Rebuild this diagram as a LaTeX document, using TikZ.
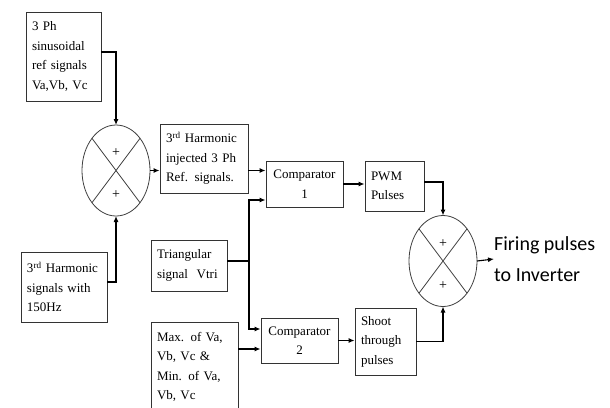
\documentclass[tikz,border=0pt]{standalone}
\usepackage{fontspec}
\setmainfont{Liberation Serif}
\newfontfamily\labelfont{Carlito}
\usetikzlibrary{shapes.geometric,arrows.meta}

\begin{document}
\begin{tikzpicture}[x=1pt,y=-1pt,
  blk/.style={draw=black!80,line width=.9pt,inner xsep=6pt,inner ysep=0pt,
    align=left,font=\fontsize{13}{19.5}\selectfont},
  summer/.style={draw=black!75,line width=.8pt,ellipse,inner sep=0pt,outer sep=0pt,
    minimum width=68pt,minimum height=91pt},
  plus/.style={inner sep=0pt,font=\fontsize{14}{14}\selectfont},
  sig/.style={line width=1.1pt,-{Latex[length=6pt,width=5pt]}},
  wire/.style={line width=1.1pt}]
  \useasboundingbox (0,0) rectangle (610,407);
  % inputs
  \node[blk,text width=63pt,minimum height=89pt] (ref) at (63.5,56.5)
    {3 Ph\\sinusoidal\\ref signals\\Va,Vb, Vc};
  \node[blk,text width=74pt,minimum height=70pt] (harm) at (64,287)
    {3\textsuperscript{rd} Harmonic\\signals with\\150Hz};
  \node[summer] (sumA) at (116,170.5) {};
  \draw[black!75,line width=.8pt] (sumA.north west) -- (sumA.south east)
    (sumA.north east) -- (sumA.south west);
  \node[plus] (plusA1) at ([yshift=18pt]sumA.center) {+};
  \node[plus] (plusA2) at ([yshift=-24pt]sumA.center) {+};
  \draw[sig] ([yshift=4.5pt]ref.east) -| (sumA.north);
  \draw[sig] ([yshift=5pt]harm.east) -| (sumA.south);
  %
  \node[blk,text width=76pt,minimum height=69pt] (inj) at (204,158.5)
    {3\textsuperscript{rd} Harmonic\\injected 3 Ph\\Ref. signals.};
  \node[blk,text width=64pt,minimum height=51pt] (tri) at (189,265.5)
    {Triangular\\signal\ \ Vtri};
  \node[blk,text width=75pt,minimum height=90pt] (mx) at (194.5,367)
    {Max. of Va,\\Vb, Vc \&\\Min. of Va,\\Vb, Vc};
  % comparators
  \node[blk,align=center,text width=65pt,minimum height=46pt] (cmpA) at (304.5,184)
    {Comparator\\1};
  \node[blk,align=center,text width=65pt,minimum height=45pt] (cmpB) at (299.5,340.5)
    {Comparator\\2};
  \node[blk,text width=47pt,minimum height=50pt] (pwm) at (394.5,186)
    {PWM\\Pulses};
  \node[blk,text width=49pt,minimum height=67pt] (shoot) at (385.5,341.5)
    {Shoot\\through\\pulses};
  \coordinate (bus) at (249,0);
  \draw[sig] (sumA.east) -- (sumA.east -| inj.west);
  \draw[sig] (sumA.east -| inj.east) -- (sumA.east -| cmpA.west);
  \draw[wire] ([yshift=4.5pt]tri.east) -- ([yshift=4.5pt]tri.east -| bus);
  \draw[sig] ([yshift=4.5pt]tri.east -| bus) |- ([yshift=-16pt]cmpA.west);
  \draw[sig] ([yshift=4.5pt]tri.east -| bus) |- ([yshift=11.5pt]cmpB.west);
  \draw[sig] ([yshift=-8.5pt]cmpB.west -| mx.east) -- ([yshift=-8.5pt]cmpB.west);
  \draw[sig] (cmpA.east) -- (cmpA.east -| pwm.west);
  \draw[sig] (cmpB.east) -- (cmpB.east -| shoot.west);
  % output summer
  \node[summer] (sumB) at (443,261) {};
  \draw[black!75,line width=.8pt] (sumB.north west) -- (sumB.south east)
    (sumB.north east) -- (sumB.south west);
  \node[plus] (plusB1) at ([yshift=17pt]sumB.center) {+};
  \node[plus] (plusB2) at ([yshift=-25pt]sumB.center) {+};
  \draw[sig] ([yshift=4pt]pwm.east) -| (sumB.north);
  \draw[sig] (shoot.east) -| (sumB.south);
  \node[anchor=west,align=left,inner sep=0pt,font=\labelfont\fontsize{20}{31}\selectfont]
    (fire) at (494,259) {Firing pulses\\to Inverter};
  \draw[sig] (sumB.east) -- (fire.west);
\end{tikzpicture}
\end{document}
